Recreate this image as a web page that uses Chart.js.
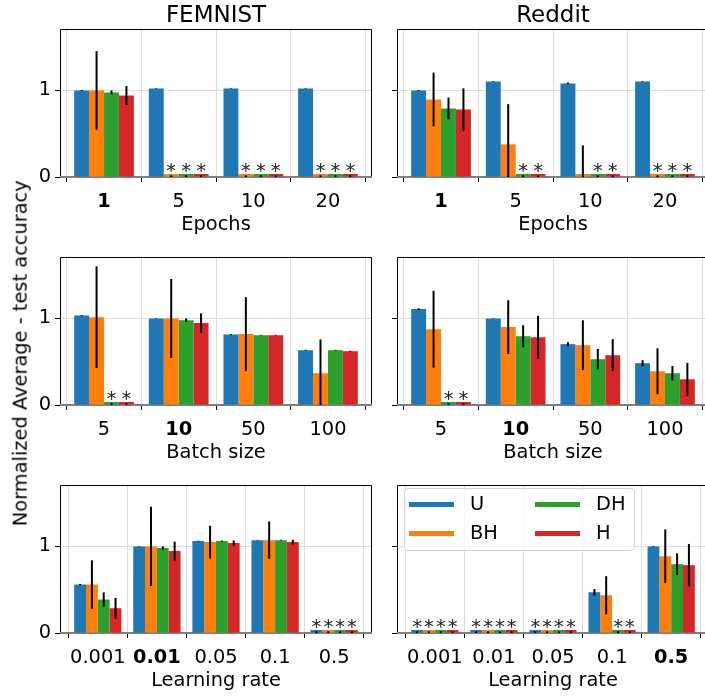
<!DOCTYPE html>
<html><head><meta charset="utf-8">
<script src="https://cdn.jsdelivr.net/npm/chart.js@4.4.0/dist/chart.umd.min.js"></script>
<style>
html,body{margin:0;padding:0;background:#fff;width:705px;height:697px;overflow:hidden;}
canvas{position:absolute;}
.txt{position:absolute;font-family:"DejaVu Sans";color:#000;white-space:nowrap;}
#legend{position:absolute;left:404px;top:488px;width:229px;height:61px;border:1px solid #d4d4d4;border-radius:4px;background:rgba(255,255,255,0.8);}
.lline{position:absolute;height:5px;width:45px;}
.ltxt{position:absolute;font-family:"DejaVu Sans";font-size:19.4px;line-height:22.6px;white-space:nowrap;}
</style></head><body>
<script>
// ---------- categories / series ----------
const seriesNames = ['U', 'BH', 'DH', 'H'];
const seriesColors = ['#1f77b4', '#ff7f0e', '#2ca02c', '#d62728'];
const epochLabels = ['1', '5', '10', '20'];
const batchLabels = ['5', '10', '50', '100'];
const lrLabels = ['0.001', '0.01', '0.05', '0.1', '0.5'];
const yTickValues = [0, 1];

// ---------- FEMNIST - epochs ----------
const femEpochU = [1.000, 1.023, 1.023, 1.023];
const femEpochBH = [1.000, 0, 0, 0];
const femEpochDH = [0.977, 0, 0, 0];
const femEpochH = [0.942, 0, 0, 0];
const femEpochUErr = [0.005, 0.003, 0.003, 0.003];
const femEpochBHErr = [0.455, 0.02, 0.02, 0.02];
const femEpochDHErr = [0.022, 0.02, 0.02, 0.02];
const femEpochHErr = [0.110, 0.02, 0.02, 0.02];
const femEpochStars = [[0, 0, 0, 0], [0, 1, 1, 1], [0, 1, 1, 1], [0, 1, 1, 1]];

// ---------- Reddit - epochs ----------
const redEpochU = [1.000, 1.104, 1.081, 1.104];
const redEpochBH = [0.896, 0.377, 0, 0];
const redEpochDH = [0.792, 0, 0, 0];
const redEpochH = [0.781, 0, 0, 0];
const redEpochUErr = [0.005, 0.004, 0.010, 0.004];
const redEpochBHErr = [0.310, 0.465, 0.365, 0.02];
const redEpochDHErr = [0.125, 0.02, 0.02, 0.02];
const redEpochHErr = [0.243, 0.02, 0.02, 0.02];
const redEpochStars = [[0, 0, 0, 0], [0, 0, 0, 1], [0, 1, 1, 1], [0, 1, 1, 1]];

// ---------- FEMNIST - batch size ----------
const femBatchU = [1.035, 1.000, 0.815, 0.633];
const femBatchBH = [1.015, 1.000, 0.819, 0.367];
const femBatchDH = [0, 0.980, 0.807, 0.633];
const femBatchH = [0, 0.946, 0.807, 0.622];
const femBatchUErr = [0.005, 0.003, 0.005, 0.005];
const femBatchBHErr = [0.587, 0.456, 0.427, 0.390];
const femBatchDHErr = [0.02, 0.020, 0.004, 0.004];
const femBatchHErr = [0.02, 0.112, 0.004, 0.005];
const femBatchStars = [[0, 0, 0, 0], [0, 0, 0, 0], [1, 0, 0, 0], [1, 0, 0, 0]];

// ---------- Reddit - batch size ----------
const redBatchU = [1.108, 1.000, 0.703, 0.483];
const redBatchBH = [0.876, 0.900, 0.691, 0.390];
const redBatchDH = [0, 0.795, 0.529, 0.367];
const redBatchH = [0, 0.784, 0.575, 0.297];
const redBatchUErr = [0.010, 0.003, 0.023, 0.035];
const redBatchBHErr = [0.444, 0.310, 0.288, 0.265];
const redBatchDHErr = [0.02, 0.127, 0.118, 0.083];
const redBatchHErr = [0.02, 0.247, 0.185, 0.190];
const redBatchStars = [[0, 0, 0, 0], [0, 0, 0, 0], [1, 0, 0, 0], [1, 0, 0, 0]];

// ---------- FEMNIST - learning rate ----------
const femLrU = [0.560, 1.000, 1.062, 1.073, 0];
const femLrBH = [0.560, 1.000, 1.050, 1.073, 0];
const femLrDH = [0.386, 0.981, 1.062, 1.073, 0];
const femLrH = [0.286, 0.946, 1.039, 1.050, 0];
const femLrUErr = [0.006, 0.003, 0.003, 0.003, 0.02];
const femLrBHErr = [0.280, 0.458, 0.190, 0.216, 0.02];
const femLrDHErr = [0.083, 0.020, 0.006, 0.004, 0.02];
const femLrHErr = [0.120, 0.110, 0.030, 0.027, 0.02];
const femLrStars = [[0, 0, 0, 0, 1], [0, 0, 0, 0, 1], [0, 0, 0, 0, 1], [0, 0, 0, 0, 1]];

// ---------- Reddit - learning rate ----------
const redLrU = [0, 0, 0, 0.471, 1.000];
const redLrBH = [0, 0, 0, 0.436, 0.888];
const redLrDH = [0, 0, 0, 0, 0.795];
const redLrH = [0, 0, 0, 0, 0.784];
const redLrUErr = [0.02, 0.02, 0.02, 0.037, 0.004];
const redLrBHErr = [0.02, 0.02, 0.02, 0.220, 0.309];
const redLrDHErr = [0.02, 0.02, 0.02, 0.02, 0.125];
const redLrHErr = [0.02, 0.02, 0.02, 0.02, 0.245];
const redLrStars = [[1, 1, 1, 0, 0], [1, 1, 1, 0, 0], [1, 1, 1, 1, 0], [1, 1, 1, 1, 0]];

// ---------- panel definitions ----------
const panels = [
  {row: 0, col: 0, labels: epochLabels, xTitle: 'Epochs', bold: 0,
   vals: [femEpochU, femEpochBH, femEpochDH, femEpochH], errs: [femEpochUErr, femEpochBHErr, femEpochDHErr, femEpochHErr], stars: femEpochStars},
  {row: 0, col: 1, labels: epochLabels, xTitle: 'Epochs', bold: 0,
   vals: [redEpochU, redEpochBH, redEpochDH, redEpochH], errs: [redEpochUErr, redEpochBHErr, redEpochDHErr, redEpochHErr], stars: redEpochStars},
  {row: 1, col: 0, labels: batchLabels, xTitle: 'Batch size', bold: 1,
   vals: [femBatchU, femBatchBH, femBatchDH, femBatchH], errs: [femBatchUErr, femBatchBHErr, femBatchDHErr, femBatchHErr], stars: femBatchStars},
  {row: 1, col: 1, labels: batchLabels, xTitle: 'Batch size', bold: 1,
   vals: [redBatchU, redBatchBH, redBatchDH, redBatchH], errs: [redBatchUErr, redBatchBHErr, redBatchDHErr, redBatchHErr], stars: redBatchStars},
  {row: 2, col: 0, labels: lrLabels, xTitle: 'Learning rate', bold: 1,
   vals: [femLrU, femLrBH, femLrDH, femLrH], errs: [femLrUErr, femLrBHErr, femLrDHErr, femLrHErr], stars: femLrStars},
  {row: 2, col: 1, labels: lrLabels, xTitle: 'Learning rate', bold: 4,
   vals: [redLrU, redLrBH, redLrDH, redLrH], errs: [redLrUErr, redLrBHErr, redLrDHErr, redLrHErr], stars: redLrStars}
];

// ---------- layout ----------
const rowTop = [29, 257, 485];
const colLeft = [60, 397];
const plotW = 312, plotH = 148;
const padTop = 4, padRight = 4, xAxisH = 60;
const yAxisW = [60, 20];
const FONT = 'DejaVu Sans';
const FS = 19.4;

const decor = {
  id: 'decor',
  beforeDatasetsDraw(chart) {
    const {ctx, chartArea: a} = chart;
    const y0 = chart.scales.y.getPixelForValue(0);
    ctx.save();
    ctx.strokeStyle = '#000';
    ctx.lineWidth = 1;
    ctx.beginPath();
    ctx.moveTo(a.left + 0.5, a.bottom);
    ctx.lineTo(a.left + 0.5, a.top + 0.5);
    ctx.lineTo(a.right - 0.5, a.top + 0.5);
    ctx.lineTo(a.right - 0.5, a.bottom);
    ctx.stroke();
    ctx.strokeStyle = '#7f7f7f';
    ctx.lineWidth = 2;
    ctx.beginPath();
    ctx.moveTo(a.left, y0);
    ctx.lineTo(a.right, y0);
    ctx.stroke();
    ctx.restore();
  },
  afterDatasetsDraw(chart, args, opts) {
    const {ctx, chartArea: a} = chart;
    const ys = chart.scales.y;
    const p = opts.panel;
    ctx.save();
    ctx.beginPath();
    ctx.rect(a.left, a.top, a.width, a.height);
    ctx.clip();
    ctx.strokeStyle = '#000';
    ctx.lineWidth = 2;
    p.vals.forEach((arr, s) => {
      const meta = chart.getDatasetMeta(s);
      arr.forEach((v, i) => {
        const e = p.errs[s][i];
        if (!e) return;
        const x = meta.data[i].x;
        ctx.beginPath();
        ctx.moveTo(x, ys.getPixelForValue(v - e));
        ctx.lineTo(x, ys.getPixelForValue(v + e));
        ctx.stroke();
      });
    });
    ctx.restore();
    ctx.save();
    ctx.fillStyle = '#222';
    ctx.font = FS + 'px "' + FONT + '"';
    ctx.textAlign = 'center';
    ctx.textBaseline = 'alphabetic';
    const y0 = ys.getPixelForValue(0);
    p.stars.forEach((row, s) => {
      const meta = chart.getDatasetMeta(s);
      row.forEach((f, i) => {
        if (f) ctx.fillText('*', meta.data[i].x, y0);
      });
    });
    ctx.restore();
  }
};

panels.forEach((p) => {
  const n = p.labels.length;
  const margin = 0.05 * (n - 0.2);
  const yW = yAxisW[p.col];
  const cv = document.createElement('canvas');
  const w = yW + plotW + padRight, h = padTop + plotH + xAxisH;
  cv.width = w; cv.height = h;
  cv.style.left = (colLeft[p.col] - yW) + 'px';
  cv.style.top = (rowTop[p.row] - padTop) + 'px';
  cv.style.width = w + 'px'; cv.style.height = h + 'px';
  document.body.appendChild(cv);
  new Chart(cv, {
    type: 'bar',
    data: {
      datasets: p.vals.map((arr, s) => ({
        label: seriesNames[s],
        data: arr.map((v, i) => ({x: i, y: v})),
        backgroundColor: seriesColors[s],
        borderWidth: 0,
        minBarLength: 3,
        clip: 0,
        categoryPercentage: 0.8,
        barPercentage: 1.0
      }))
    },
    options: {
      responsive: false,
      animation: false,
      devicePixelRatio: 1,
      events: [],
      layout: {padding: {top: padTop, right: padRight, left: 0, bottom: 0}},
      plugins: {legend: {display: false}, tooltip: {enabled: false}, decor: {panel: p}},
      scales: {
        x: {
          type: 'linear',
          min: -0.4 - margin,
          max: n - 1 + 0.4 + margin,
          offset: false,
          afterBuildTicks: (sc) => { sc.ticks = p.labels.map((_, i) => ({value: i})); },
          afterFit: (sc) => { sc.height = xAxisH; sc.paddingLeft = 0; sc.paddingRight = 0; },
          grid: {color: '#dddddd', lineWidth: 1, drawTicks: true, tickLength: 5, tickColor: '#000', tickWidth: 1},
          border: {display: false},
          ticks: {
            padding: 8,
            color: '#000',
            maxRotation: 0,
            autoSkip: false,
            callback: (v) => p.labels[Math.round(v)],
            font: (ctx) => ({family: FONT, size: FS, weight: ctx.index === p.bold ? 'bold' : 'normal'})
          },
          title: {display: true, text: p.xTitle, color: '#000', font: {family: FONT, size: FS}, padding: {top: 0, bottom: 0}}
        },
        y: {
          type: 'linear',
          min: 0,
          max: 1.71,
          afterBuildTicks: (sc) => { sc.ticks = yTickValues.map((v) => ({value: v})); },
          afterFit: (sc) => { sc.width = yW; sc.paddingTop = 0; sc.paddingBottom = 0; },
          grid: {color: '#dddddd', lineWidth: 1, drawTicks: true, tickLength: 5, tickColor: '#000', tickWidth: 1},
          border: {display: false},
          ticks: {
            display: p.col === 0,
            padding: 4,
            color: '#000',
            callback: (v) => String(v),
            font: {family: FONT, size: FS}
          }
        }
      }
    },
    plugins: [decor]
  });
});

// ---------- titles, y label, legend (text) ----------
function addText(txt, css) {
  const d = document.createElement('div');
  d.className = 'txt';
  d.textContent = txt;
  Object.assign(d.style, css);
  document.body.appendChild(d);
  return d;
}
addText('FEMNIST', {left: '0px', width: '432px', top: '1px', textAlign: 'center', fontSize: '23px', lineHeight: '27px'});
addText('Reddit', {left: '397px', width: '312px', top: '1px', textAlign: 'center', fontSize: '23px', lineHeight: '27px'});
addText('Normalized Average - test accuracy', {left: (21 - 200) + 'px', top: (353 - 11.3) + 'px', width: '400px', textAlign: 'center', fontSize: FS + 'px', lineHeight: '22.6px', transform: 'rotate(-90deg)'});

const lg = document.createElement('div');
lg.id = 'legend';
document.body.appendChild(lg);
const legPos = [[0, 0], [0, 1], [1, 0], [1, 1]]; // [column,row] for U, BH, DH, H
seriesNames.forEach((name, s) => {
  const [c, r] = legPos[s];
  const ln = document.createElement('div');
  ln.className = 'lline';
  ln.style.background = seriesColors[s];
  ln.style.left = (4 + c * 126) + 'px';
  ln.style.top = (13 + r * 29) + 'px';
  lg.appendChild(ln);
  const t = document.createElement('div');
  t.className = 'ltxt';
  t.textContent = name;
  t.style.left = (65 + c * 126) + 'px';
  t.style.top = (4 + r * 29) + 'px';
  lg.appendChild(t);
});
</script>
</body></html>
